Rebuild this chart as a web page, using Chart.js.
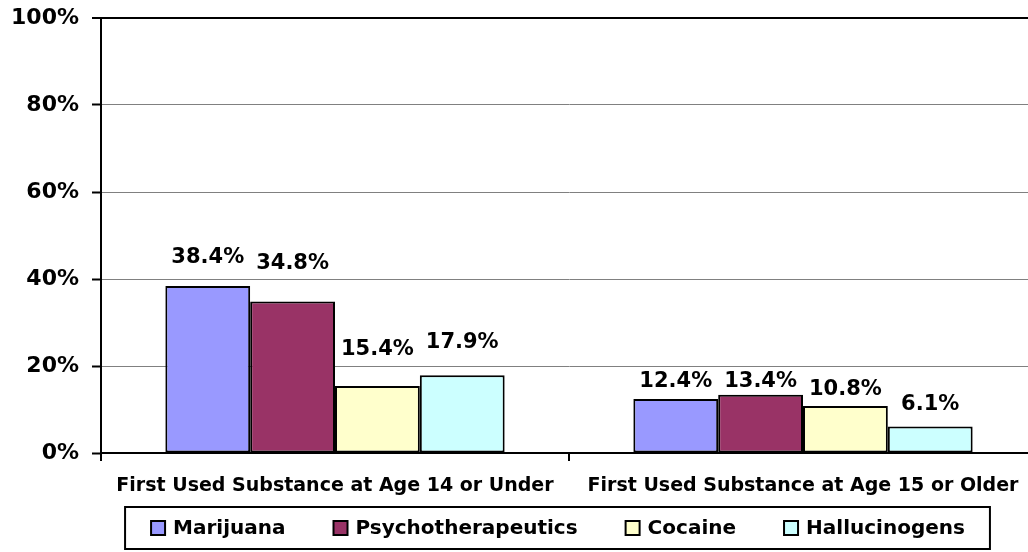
<!DOCTYPE html>
<html>
<head>
<meta charset="utf-8">
<script src="https://cdn.jsdelivr.net/npm/chart.js@4/dist/chart.umd.min.js"></script>
<style>
  html, body { margin: 0; padding: 0; background: #fff; overflow: hidden; }
  /* el área del gráfico original se sale un poco por la derecha */
  #wrap { width: 1040px; height: 552px; position: relative; }
</style>
</head>
<body>
<div id="wrap"><canvas id="grafico"></canvas></div>
<script>
// Datos del gráfico
const categorias = ['First Used Substance at Age 14 or Under', 'First Used Substance at Age 15 or Older'];
const series = ['Marijuana', 'Psychotherapeutics', 'Cocaine', 'Hallucinogens'];
const marihuana = [38.4, 12.4];
const psicoterapeuticos = [34.8, 13.4];
const cocaina = [15.4, 10.8];
const alucinogenos = [17.9, 6.1];
const ticksY = [0, 20, 40, 60, 80, 100];

const colores = ['#9999FF', '#993366', '#FFFFCC', '#CCFFFF'];
// separación (px) entre la barra y su etiqueta, como en el original
const separacion = [[23, 12], [33, 8], [31, 11], [27, 16]];
const fuente = "'DejaVu Sans', sans-serif";

document.addEventListener('DOMContentLoaded', function() {
    const valores = [marihuana, psicoterapeuticos, cocaina, alucinogenos];

    // Etiquetas encima de cada barra
    const etiquetas = {
        id: 'etiquetas',
        afterDatasetsDraw(chart) {
            const ctx = chart.ctx;
            ctx.save();
            ctx.font = 'bold 21px ' + fuente;
            ctx.fillStyle = '#000';
            ctx.textAlign = 'center';
            ctx.textBaseline = 'alphabetic';
            chart.data.datasets.forEach((ds, i) => {
                chart.getDatasetMeta(i).data.forEach((barra, j) => {
                    ctx.fillText(ds.data[j].toFixed(1) + '%', barra.x, barra.y - separacion[i][j]);
                });
            });
            ctx.restore();
        }
    };

    // Leyenda con recuadro, dibujada a mano
    const leyenda = {
        id: 'leyenda',
        afterDraw(chart) {
            const ctx = chart.ctx;
            ctx.save();
            ctx.font = 'bold 20px ' + fuente;
            const cuadro = 14, hueco = 8, entre = 48;
            const anchos = series.map(s => ctx.measureText(s).width);
            const total = anchos.reduce((a, b) => a + b, 0) + series.length * (cuadro + hueco) + (series.length - 1) * entre;
            const centro = 558;
            const yc = 528;
            let x = centro - total / 2;

            ctx.strokeStyle = '#000';
            ctx.lineWidth = 2;
            ctx.strokeRect(x - 26, 507, total + 51, 42);

            ctx.textBaseline = 'middle';
            ctx.textAlign = 'left';
            series.forEach((s, i) => {
                ctx.fillStyle = colores[i];
                ctx.fillRect(x, yc - cuadro / 2, cuadro, cuadro);
                ctx.lineWidth = 2;
                ctx.strokeRect(x, yc - cuadro / 2, cuadro, cuadro);
                ctx.fillStyle = '#000';
                ctx.fillText(s, x + cuadro + hueco, yc + 1);
                x += cuadro + hueco + anchos[i] + entre;
            });
            ctx.restore();
        }
    };

    const ctx = document.getElementById('grafico').getContext('2d');
    new Chart(ctx, {
        type: 'bar',
        data: {
            labels: categorias,
            datasets: series.map((s, i) => ({
                label: s,
                data: valores[i],
                backgroundColor: colores[i],
                borderColor: '#000',
                borderWidth: 2,
                borderSkipped: false,
                categoryPercentage: 0.725,
                barPercentage: 1
            }))
        },
        options: {
            responsive: true,
            maintainAspectRatio: false,
            animation: false,
            layout: { padding: { top: 18, right: 3, bottom: 49, left: 0 } },
            plugins: {
                legend: { display: false },
                tooltip: { enabled: false }
            },
            scales: {
                y: {
                    min: 0,
                    max: 100,
                    afterFit(scale) {
                        scale.width = 101;
                        scale.paddingTop = 0;
                        scale.paddingBottom = 0;
                    },
                    afterBuildTicks(scale) { scale.ticks = ticksY.map(v => ({ value: v })); },
                    ticks: {
                        padding: 13,
                        color: '#000',
                        font: { family: fuente, size: 22, weight: 'bold' },
                        callback: v => v + '%'
                    },
                    grid: {
                        color: c => c.tick && c.tick.value === 100 ? '#000' : '#808080',
                        lineWidth: c => c.tick && c.tick.value === 100 ? 2 : 1,
                        tickColor: '#000',
                        tickWidth: 2,
                        tickLength: 9
                    },
                    border: { color: '#000', width: 2 }
                },
                x: {
                    afterFit(scale) {
                        scale.height = 50;
                        scale.paddingLeft = 0;
                        scale.paddingRight = 0;
                    },
                    ticks: {
                        padding: 14,
                        color: '#000',
                        maxRotation: 0,
                        font: { family: fuente, size: 19, weight: 'bold' }
                    },
                    grid: {
                        drawOnChartArea: false,
                        color: '#000',
                        lineWidth: 2,
                        tickLength: 8
                    },
                    border: { color: '#000', width: 2 }
                }
            }
        },
        plugins: [etiquetas, leyenda]
    });
});
</script>
</body>
</html>
